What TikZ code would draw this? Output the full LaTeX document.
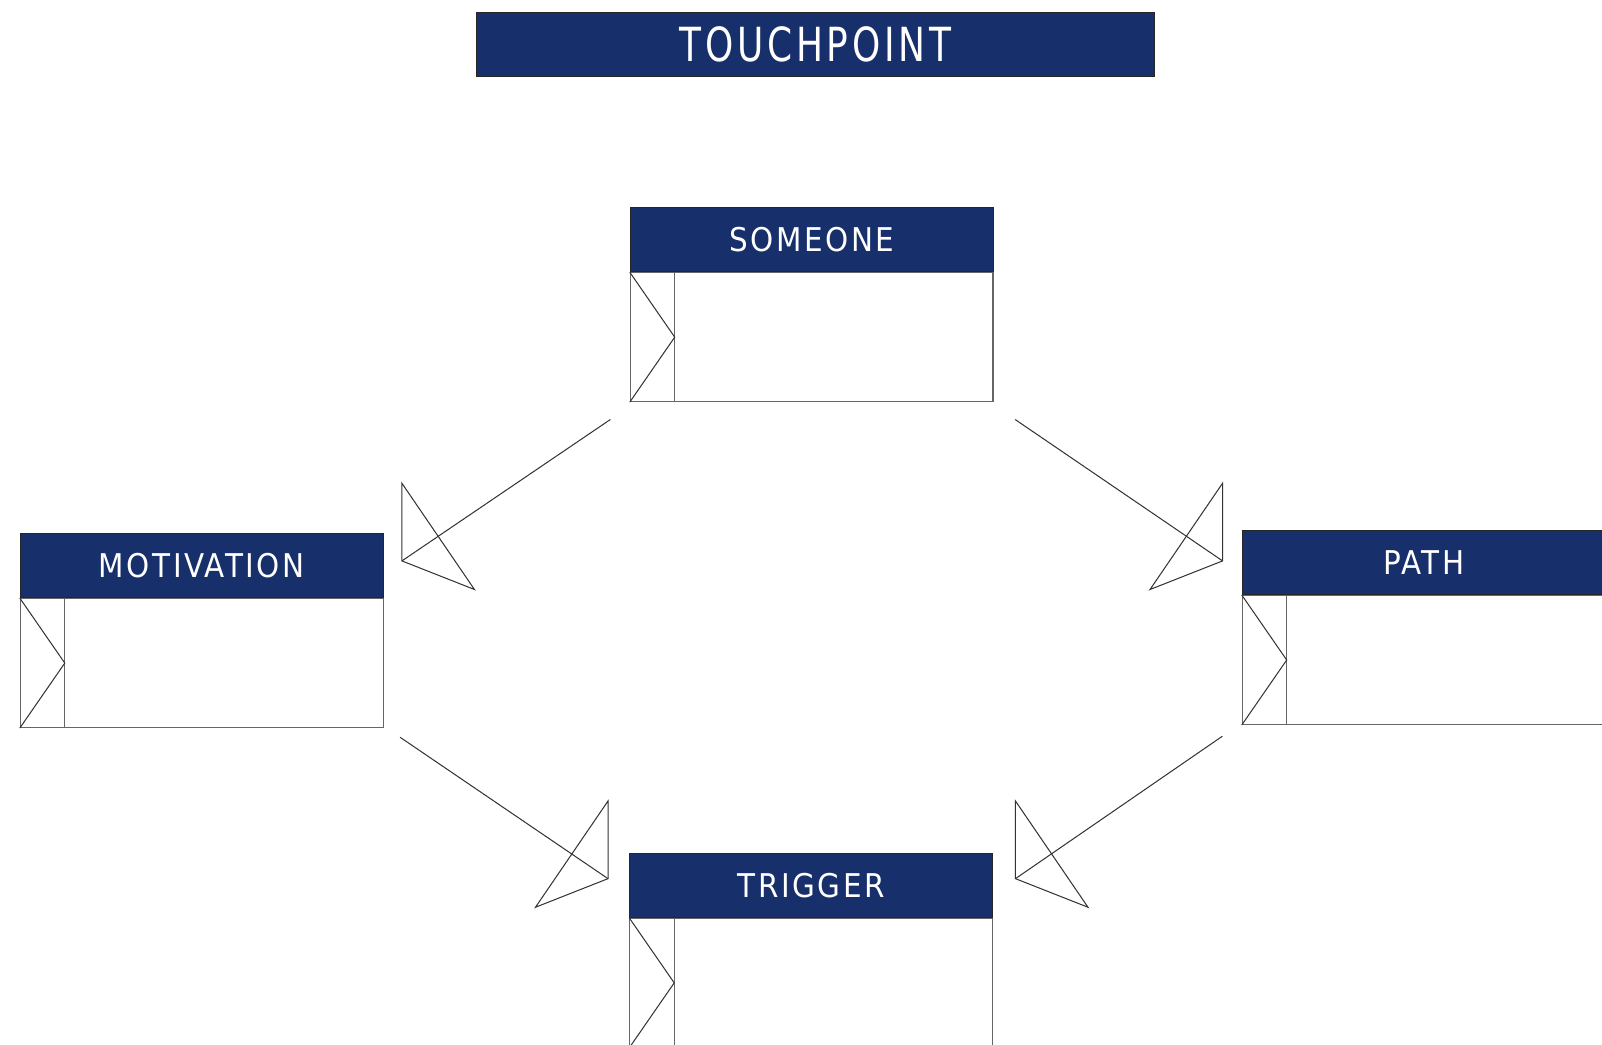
\documentclass[tikz,border=0pt]{standalone}
\usepackage{fontspec}
\setmainfont{DejaVu Sans Condensed}[LetterSpace=8]
\newfontfamily\titlefont{DejaVu Sans Condensed}[LetterSpace=8, FakeStretch=0.85]
\usetikzlibrary{positioning}
\definecolor{navy}{HTML}{172F6B}
\tikzset{
	header/.style={rectangle, draw=black!85, fill=navy, text=white, minimum width=177.5pt, minimum height=31.5pt, inner sep=0pt, font=\fontsize{16}{18}\selectfont},
	bodybox/.style={rectangle, draw=black!60, line width=0.6pt, minimum width=177.5pt, minimum height=63pt, inner sep=0pt},
	link/.style={draw=black!80, line width=0.5pt},
	tipleft/.pic={\draw[link] (0,0) -- (0,-76) -- (71,28) -- cycle;},
	tipright/.pic={\draw[link] (0,0) -- (0,-76) -- (-71,28) -- cycle;}
}

\begin{document}
\begin{tikzpicture}[x=0.5pt, y=-0.5pt]
	\useasboundingbox (0,0) rectangle (1568,1022);
	\node[header, minimum width=332pt, font=\titlefont\fontsize{23}{26}\selectfont] (touchpoint) at (798,43.5) {TOUCHPOINT};

	\node[header] (someone) at (794.5,234.5) {SOMEONE};
	\node[header] (motivation) at (197.5,553.5) {MOTIVATION};
	\node[header] (path) at (1393.5,550.5) {PATH};
	\node[header] (trigger) at (794,866.5) {TRIGGER};

	\foreach \b in {someone, motivation, path, trigger} {
		\node[bodybox, below=0pt of \b] (\b-body) {};
		\draw[bodybox] ([xshift=22pt]\b-body.north west) -- ([xshift=22pt]\b-body.south west);
		\draw[link] (\b-body.north west) -- ([xshift=22pt]\b-body.west) -- (\b-body.south west);
	}

	% arrow tips
	\coordinate (tip1) at ([shift={(18,-4.5)}]motivation.east);
	\coordinate (tip2) at ([shift={(-19,-1.5)}]path.west);
	\coordinate (tip3) at ([shift={(-21,-6.5)}]trigger.west);
	\coordinate (tip4) at ([shift={(22,-6.5)}]trigger.east);

	\draw[link] ([shift={(-19,17)}]someone-body.south west) -- (tip1);
	\draw[link] ([shift={(21,17)}]someone-body.south east) -- (tip2);
	\draw[link] ([shift={(16,9)}]motivation-body.south east) -- (tip3);
	\draw[link] ([shift={(-19,11)}]path-body.south west) -- (tip4);
	\pic at (tip1) {tipleft};
	\pic at (tip2) {tipright};
	\pic at (tip3) {tipright};
	\pic at (tip4) {tipleft};
\end{tikzpicture}
\end{document}
